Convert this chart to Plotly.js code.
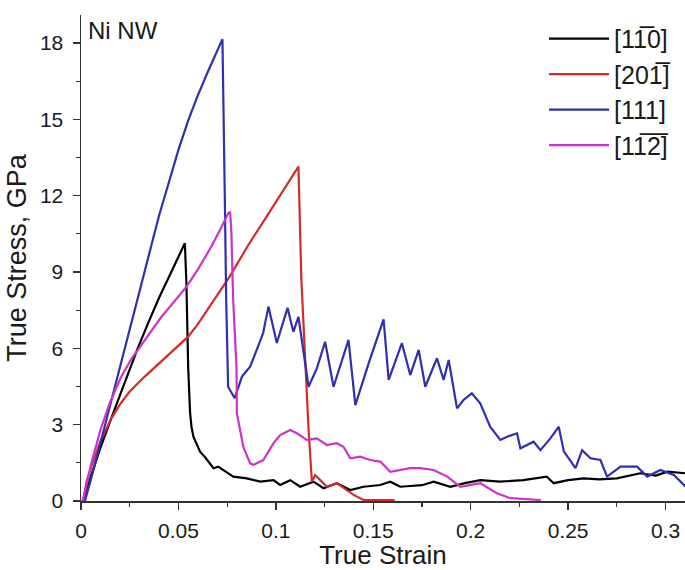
<!DOCTYPE html>
<html>
<head>
<meta charset="utf-8">
<script src="https://cdn.plot.ly/plotly-3.0.1.min.js"></script>
<style>html,body{margin:0;padding:0;background:#fff;}#chart{width:685px;height:570px;}</style>
</head>
<body>
<div id="chart"></div>
<script>
// Series names
const names = ["[11\u03050]", "[201\u0305]", "[111]", "[11\u03052\u0305]"];

// [1-10] black
const strainA = [0, 0.001, 0.005, 0.01, 0.017, 0.0241, 0.029, 0.0344, 0.04, 0.0464, 0.05, 0.0533, 0.0541, 0.055, 0.056, 0.0567, 0.0577, 0.0601, 0.0611, 0.0635, 0.068, 0.0704, 0.0731, 0.0772, 0.0782, 0.0851, 0.092, 0.0988, 0.1022, 0.1074, 0.1125, 0.1193, 0.1245, 0.1313, 0.1382, 0.145, 0.1536, 0.1587, 0.1639, 0.169, 0.175, 0.181, 0.1896, 0.197, 0.205, 0.215, 0.227, 0.239, 0.2426, 0.25, 0.258, 0.266, 0.275, 0.287, 0.295, 0.301, 0.31];
const stressA = [0, 0, 0.95, 2.1, 3.55, 5.02, 5.98, 6.98, 7.98, 9.01, 9.6, 10.13, 8.56, 5.28, 3.45, 2.92, 2.53, 2.13, 1.94, 1.74, 1.29, 1.35, 1.22, 1.02, 0.96, 0.89, 0.76, 0.82, 0.63, 0.82, 0.56, 0.76, 0.50, 0.70, 0.43, 0.56, 0.63, 0.76, 0.56, 0.59, 0.62, 0.76, 0.56, 0.7, 0.82, 0.76, 0.82, 0.96, 0.70, 0.82, 0.89, 0.85, 0.89, 1.09, 1.0, 1.15, 1.09];

// [20-1] red
const strainB = [0, 0.001, 0.003, 0.0053, 0.01, 0.0156, 0.02, 0.025, 0.0327, 0.04, 0.047, 0.055, 0.06, 0.0645, 0.07, 0.0763, 0.0858, 0.095, 0.104, 0.1116, 0.1131, 0.1168, 0.1185, 0.1202, 0.1228, 0.1262, 0.1313, 0.1364, 0.1399, 0.145, 0.161];
const stressB = [0, 0, 0.8, 1.35, 2.35, 3.25, 3.8, 4.3, 4.89, 5.4, 5.9, 6.46, 6.95, 7.45, 8.1, 8.82, 10.05, 11.15, 12.2, 13.14, 8.7, 2.8, 0.76, 1.02, 0.82, 0.56, 0.70, 0.43, 0.24, 0.04, 0.04];

// [111] blue
const strainC = [0, 0.002, 0.006, 0.01, 0.015, 0.02, 0.025, 0.03, 0.035, 0.04, 0.045, 0.05, 0.055, 0.06, 0.065, 0.07, 0.0726, 0.0738, 0.0745, 0.0755, 0.0789, 0.0826, 0.0868, 0.09, 0.0935, 0.0962, 0.1005, 0.106, 0.109, 0.1116, 0.1168, 0.121, 0.1253, 0.1296, 0.1373, 0.1408, 0.148, 0.1553, 0.1579, 0.1647, 0.169, 0.1733, 0.1767, 0.1827, 0.1861, 0.1887, 0.193, 0.1963, 0.2006, 0.2049, 0.21, 0.2152, 0.2195, 0.2238, 0.2255, 0.2323, 0.2358, 0.2409, 0.2452, 0.2478, 0.2538, 0.2572, 0.2615, 0.2666, 0.27, 0.2769, 0.2854, 0.2906, 0.2974, 0.3043, 0.3103];
const stressC = [0, 0, 1.1, 2.3, 3.8, 5.3, 6.8, 8.3, 9.8, 11.2, 12.5, 13.8, 14.95, 15.95, 16.85, 17.7, 18.15, 12.0, 8.0, 4.49, 4.04, 4.89, 5.28, 5.9, 6.6, 7.64, 6.21, 7.59, 6.65, 7.24, 4.49, 5.2, 6.26, 4.49, 6.33, 3.77, 5.5, 7.14, 4.76, 6.20, 4.95, 5.94, 4.49, 5.61, 4.76, 5.54, 3.64, 3.97, 4.23, 3.84, 2.92, 2.40, 2.55, 2.66, 2.07, 2.33, 2.0, 2.46, 2.92, 1.95, 1.29, 2.0, 1.68, 1.61, 0.96, 1.35, 1.35, 0.96, 1.22, 1.02, 0.56];

// [1-1-2] magenta
const strainD = [0, 0.001, 0.0053, 0.01, 0.015, 0.0207, 0.026, 0.0327, 0.0413, 0.048, 0.0541, 0.06, 0.0669, 0.072, 0.0755, 0.0765, 0.0772, 0.0781, 0.0798, 0.080, 0.0833, 0.0868, 0.0885, 0.0936, 0.0988, 0.1022, 0.1074, 0.1108, 0.1159, 0.121, 0.1262, 0.1313, 0.1347, 0.1382, 0.1433, 0.1485, 0.1536, 0.1587, 0.1639, 0.169, 0.174, 0.181, 0.188, 0.1947, 0.205, 0.2135, 0.2204, 0.236];
const stressD = [0, 0, 1.48, 2.8, 3.9, 4.89, 5.6, 6.33, 7.24, 7.85, 8.42, 9.1, 10.0, 10.75, 11.3, 11.37, 10.52, 7.9, 5.28, 3.45, 2.13, 1.48, 1.42, 1.61, 2.27, 2.59, 2.79, 2.66, 2.40, 2.46, 2.20, 2.27, 2.13, 1.68, 1.74, 1.61, 1.55, 1.15, 1.22, 1.29, 1.29, 1.22, 0.96, 0.56, 0.70, 0.30, 0.11, 0.04];

const colors = ["#000000", "#d42a2a", "#2f2fb0", "#cc33cc"];

const xs = [strainA, strainB, strainC, strainD];
const ys = [stressA, stressB, stressC, stressD];

const traces = names.map((n, i) => ({
  x: xs[i], y: ys[i], name: n, type: "scatter", mode: "lines",
  line: {color: colors[i], width: 2.2}
}));

const fontFam = "Arial, 'Liberation Sans', 'DejaVu Sans', sans-serif";

const layout = {
  width: 685, height: 570,
  margin: {l: 81, r: 0, t: 15, b: 69},
  paper_bgcolor: "#fff", plot_bgcolor: "#fff",
  font: {family: fontFam, color: "#1a1a1a", size: 21},
  showlegend: true,
  legend: {
    x: 0.7666, y: 0.998, xanchor: "left", yanchor: "top",
    font: {size: 25, color: "#1a1a1a", family: fontFam},
    bgcolor: "rgba(255,255,255,0)", tracegroupgap: 0, itemwidth: 60
  },
  xaxis: {
    range: [0, 0.31], tickvals: [0, 0.05, 0.1, 0.15, 0.2, 0.25, 0.3],
    ticktext: ["0", "0.05", "0.1", "0.15", "0.2", "0.25", "0.3"],
    ticks: "outside", ticklen: 7, tickwidth: 1.5, tickcolor: "#333",
    minor: {dtick: 0.025, tick0: 0, ticks: "outside", ticklen: 4, tickwidth: 1.2, tickcolor: "#333"},
    showline: true, linecolor: "#333", linewidth: 1.5, showgrid: false, zeroline: false,
    tickfont: {size: 21}, ticklabelstandoff: 3,
    title: {text: "True Strain", font: {size: 26, color: "#1a1a1a"}, standoff: 6}
  },
  yaxis: {
    range: [0, 19.1], tickvals: [0, 3, 6, 9, 12, 15, 18],
    ticks: "outside", ticklen: 7, tickwidth: 1.5, tickcolor: "#333",
    minor: {dtick: 1.5, tick0: 0, ticks: "outside", ticklen: 4, tickwidth: 1.2, tickcolor: "#333"},
    showline: true, linecolor: "#333", linewidth: 1.5, showgrid: false, zeroline: false,
    tickfont: {size: 21}, ticklabelstandoff: 5,
    title: {text: "True Stress, GPa", font: {size: 27, color: "#1a1a1a"}, standoff: 5}
  },
  annotations: [{
    xref: "paper", yref: "paper", x: 0.008, y: 1.0, xanchor: "left", yanchor: "top",
    text: "Ni NW", showarrow: false, font: {size: 24, color: "#1a1a1a"}
  }]
};

Plotly.newPlot("chart", traces, layout, {displayModeBar: false, staticPlot: true});
</script>
</body>
</html>
